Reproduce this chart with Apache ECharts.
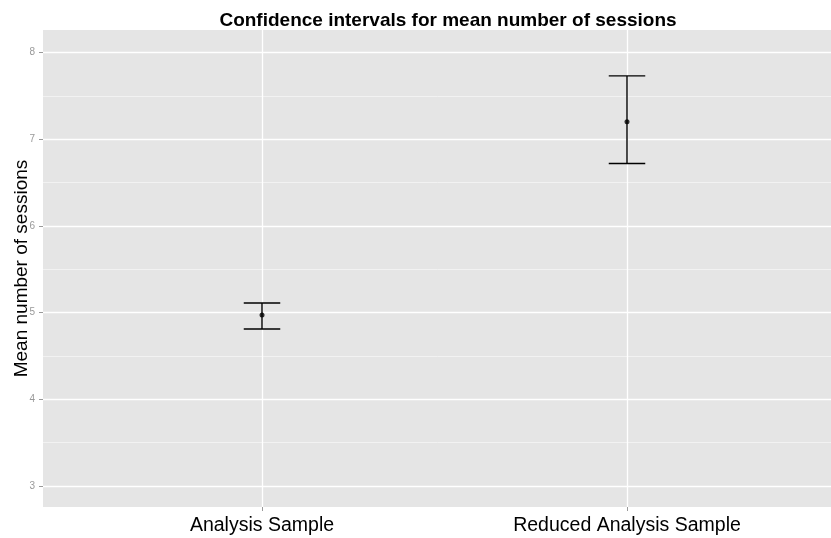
<!DOCTYPE html>
<html>
<head>
<meta charset="utf-8">
<script src="https://cdn.jsdelivr.net/npm/echarts@6/dist/echarts.min.js"></script>
<style>
  html, body { margin: 0; padding: 0; background: #fff; }
  #chart { width: 831px; height: 538px; }
</style>
</head>
<body>
<div id="chart"></div>
<script>
// samples and their confidence intervals
var categories = ['Analysis Sample', 'Reduced Analysis Sample'];
var means = [4.97, 7.20];
var lower = [4.81, 6.72];
var upper = [5.11, 7.73];
var yTicks = [3, 4, 5, 6, 7, 8];
var yMinor = [3.5, 4.5, 5.5, 6.5, 7.5];
var xPos = [1, 2];

var chart = echarts.init(document.getElementById('chart'));

var barData = [];
var pointData = [];
for (var i = 0; i < categories.length; i++) {
  barData.push([xPos[i], lower[i], upper[i]]);
  pointData.push([xPos[i], means[i]]);
}

// ggplot style grid: minor lines first, major on top
var gridLines = [];
for (i = 0; i < yMinor.length; i++) {
  gridLines.push({ yAxis: yMinor[i], lineStyle: { color: '#f2f2f2', width: 1, type: 'solid' } });
}
for (i = 0; i < yTicks.length; i++) {
  gridLines.push({ yAxis: yTicks[i], lineStyle: { color: '#ffffff', width: 1.3, type: 'solid' } });
}
for (i = 0; i < xPos.length; i++) {
  gridLines.push({ xAxis: xPos[i], lineStyle: { color: '#ffffff', width: 1.3, type: 'solid' } });
}

var option = {
  animation: false,
  title: {
    text: 'Confidence intervals for mean number of sessions',
    left: 443,
    textAlign: 'center',
    top: 6,
    textStyle: { fontFamily: 'Liberation Sans', fontSize: 19, fontWeight: 'bold', color: '#000' }
  },
  grid: {
    left: 43, top: 30, width: 803, height: 477,
    outerBoundsMode: 'none',
    containLabel: false,
    show: true, backgroundColor: '#e5e5e5', borderWidth: 0
  },
  xAxis: {
    type: 'value',
    min: 0.4,
    max: 2.6,
    axisLine: { show: false },
    splitLine: { show: false },
    axisTick: { show: true, customValues: xPos, length: 4, lineStyle: { color: '#999' } },
    axisLabel: {
      customValues: xPos,
      margin: 9,
      fontFamily: 'Liberation Sans',
      fontSize: 19.5,
      color: '#000',
      formatter: function (v) { return categories[Math.round(v) - 1]; }
    }
  },
  yAxis: {
    type: 'value',
    min: 2.755,
    max: 8.26,
    name: 'Mean number of sessions',
    nameLocation: 'middle',
    nameGap: 12,
    nameMoveOverlap: false,
    nameTextStyle: { fontFamily: 'Liberation Sans', fontSize: 19, color: '#000' },
    axisLine: { show: false },
    splitLine: { show: false },
    axisTick: { show: true, customValues: yTicks, length: 4, lineStyle: { color: '#999' } },
    axisLabel: {
      customValues: yTicks,
      margin: 8,
      fontFamily: 'Liberation Sans',
      fontSize: 10,
      color: '#999'
    }
  },
  series: [
    {
      type: 'line',
      data: [],
      silent: true,
      z: 1,
      markLine: {
        silent: true,
        z: 1,
        symbol: 'none',
        label: { show: false },
        animation: false,
        data: gridLines
      }
    },
    {
      type: 'custom',
      z: 10,
      data: barData,
      renderItem: function (params, api) {
        var x = api.value(0);
        var lo = api.coord([x, api.value(1)]);
        var hi = api.coord([x, api.value(2)]);
        var loL = api.coord([x - 0.05, api.value(1)]);
        var loR = api.coord([x + 0.05, api.value(1)]);
        var hiL = api.coord([x - 0.05, api.value(2)]);
        var hiR = api.coord([x + 0.05, api.value(2)]);
        var st = { stroke: '#000', lineWidth: 1.4 };
        return {
          type: 'group',
          children: [
            { type: 'line', shape: { x1: lo[0], y1: lo[1], x2: hi[0], y2: hi[1] }, style: st },
            { type: 'line', shape: { x1: loL[0], y1: loL[1], x2: loR[0], y2: loR[1] }, style: st },
            { type: 'line', shape: { x1: hiL[0], y1: hiL[1], x2: hiR[0], y2: hiR[1] }, style: st }
          ]
        };
      }
    },
    {
      type: 'scatter',
      z: 11,
      data: pointData,
      symbol: 'circle',
      symbolSize: 5,
      itemStyle: { color: '#000' }
    }
  ]
};

chart.setOption(option);
</script>
</body>
</html>
